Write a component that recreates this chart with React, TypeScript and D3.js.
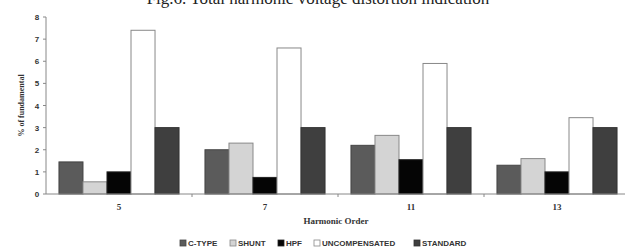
import React from "react";
import * as d3 from "d3";

const categories = ["5", "7", "11", "13"];
const seriesNames = ["C-TYPE", "SHUNT", "HPF", "UNCOMPENSATED", "STANDARD"];
const cType = [1.45, 2.0, 2.2, 1.3];
const shunt = [0.55, 2.3, 2.65, 1.6];
const hpf = [1.0, 0.75, 1.55, 1.0];
const uncompensated = [7.4, 6.6, 5.9, 3.45];
const standard = [3.0, 3.0, 3.0, 3.0];
const yTicks = [0, 1, 2, 3, 4, 5, 6, 7, 8];

const seriesValues = [cType, shunt, hpf, uncompensated, standard];
const fills = ["#5b5b5b", "#d4d4d4", "#050505", "#ffffff", "#3f3f3f"];
const strokes = ["#444", "#888", "#222", "#888", "#333"];
const legendX = [180, 230, 278, 314, 414];

const App = () => {
  const width = 625;
  const height = 251;
  const x0 = 46;
  const yBase = 194;

  const x = d3.scaleBand().domain(categories).range([x0, x0 + 4 * 146]);
  const xs = d3
    .scaleBand()
    .domain(seriesNames)
    .range([0, x.bandwidth()])
    .paddingOuter(0.54);
  const y = d3.scaleLinear().domain([0, 8]).range([yBase, 17]);

  return (
    <svg
      width={width}
      height={height}
      style={{ position: "absolute", left: 0, top: 0, background: "#fff" }}
    >
      <text
        x={318}
        y={4}
        textAnchor="middle"
        fontFamily="Liberation Serif"
        fontSize={17}
        fill="#222"
      >
        Fig.6. Total harmonic voltage distortion indication
      </text>

      {/* y axis */}
      <line x1={x0} x2={x0} y1={y(0)} y2={y(8)} stroke="#888" />
      {yTicks.map((t) => (
        <g key={t}>
          <line x1={x0 - 3} x2={x0} y1={y(t)} y2={y(t)} stroke="#888" />
          <text
            x={37}
            y={y(t) + 3}
            textAnchor="middle"
            fontFamily="Liberation Sans"
            fontWeight="bold"
            fontSize={8}
            fill="#333"
          >
            {t}
          </text>
        </g>
      ))}
      <text
        transform={`translate(24, ${y(4)}) rotate(-90)`}
        textAnchor="middle"
        fontFamily="Liberation Serif"
        fontWeight="bold"
        fontSize={8}
        fill="#333"
      >
        % of fundamental
      </text>

      {/* bars */}
      {categories.map((c, i) => (
        <g key={c} transform={`translate(${x(c)},0)`}>
          {seriesNames.map((s, j) => (
            <rect
              key={s}
              x={xs(s)}
              y={y(seriesValues[j][i])}
              width={xs.bandwidth()}
              height={yBase - y(seriesValues[j][i])}
              fill={fills[j]}
              stroke={strokes[j]}
              strokeWidth={1}
            />
          ))}
        </g>
      ))}

      {/* x axis */}
      <line x1={x0} x2={width} y1={yBase} y2={yBase} stroke="#888" />
      {categories.slice(1).map((c) => (
        <line
          key={c}
          x1={x(c)}
          x2={x(c)}
          y1={yBase}
          y2={yBase + 3}
          stroke="#888"
        />
      ))}
      {categories.map((c) => (
        <text
          key={c}
          x={(x(c) as number) + x.bandwidth() / 2}
          y={210}
          textAnchor="middle"
          fontFamily="Liberation Serif"
          fontWeight="bold"
          fontSize={9}
          fill="#333"
        >
          {c}
        </text>
      ))}
      <text
        x={336}
        y={224}
        textAnchor="middle"
        fontFamily="Liberation Serif"
        fontWeight="bold"
        fontSize={9}
        fill="#333"
      >
        Harmonic Order
      </text>

      {/* legend */}
      {seriesNames.map((s, j) => (
        <g key={s} transform={`translate(${legendX[j]},243)`}>
          <rect
            x={0}
            y={-3}
            width={6}
            height={6}
            fill={fills[j]}
            stroke={strokes[j]}
            strokeWidth={0.8}
          />
          <text
            x={8}
            y={3}
            fontFamily="Liberation Sans"
            fontWeight="bold"
            fontSize={8}
            fill="#333"
          >
            {s}
          </text>
        </g>
      ))}
    </svg>
  );
};

export default App;
